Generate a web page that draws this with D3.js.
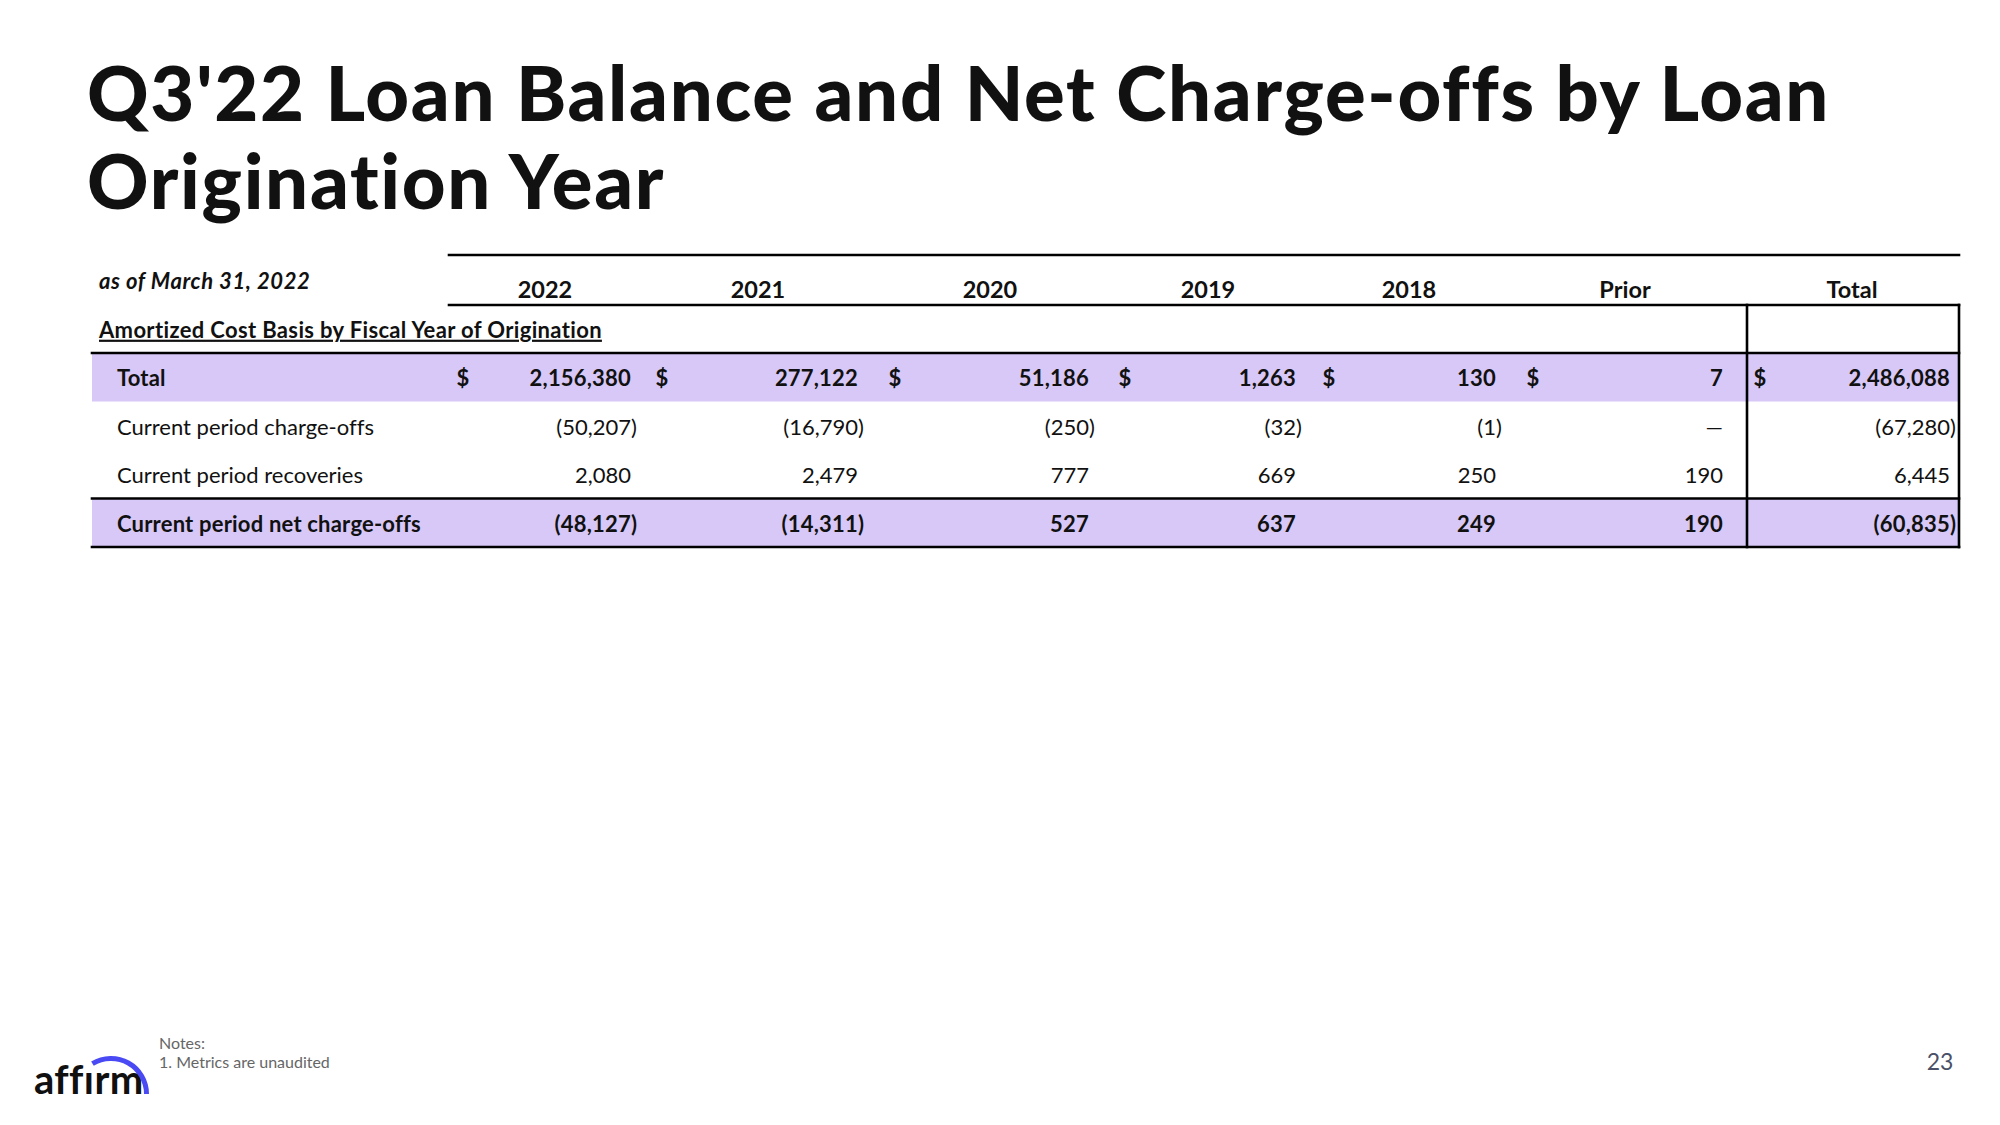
<!DOCTYPE html>
<html>
<head>
<meta charset="utf-8">
<script src="https://cdn.jsdelivr.net/npm/d3@7"></script>
<style>
    html, body { margin: 0; padding: 0; background: #fff; }
    svg text {
        font-family: Lato, 'Noto Sans', sans-serif;
        fill: #111;
        font-variant-ligatures: none;
        font-feature-settings: "liga" 0, "clig" 0;
    }
    .title { font-size: 76px; font-weight: 900; letter-spacing: 1.7px; }
    .hdr { font-size: 23.5px; font-weight: 700; }
    .lbl { font-size: 22px; }
    .bold { font-weight: 700; letter-spacing: 0.2px; }
    .rule { stroke: #000; stroke-width: 2.6; }
</style>
</head>
<body>
<div id="chart"></div>
<script>
// table values, in $ thousands
const columns = ['2022', '2021', '2020', '2019', '2018', 'Prior', 'Total'];
const rowLabels = ['Total', 'Current period charge-offs', 'Current period recoveries', 'Current period net charge-offs'];
const totalBalance = [2156380, 277122, 51186, 1263, 130, 7, 2486088];
const chargeOffs = [-50207, -16790, -250, -32, -1, 0, -67280];
const recoveries = [2080, 2479, 777, 669, 250, 190, 6445];
const netChargeOffs = [-48127, -14311, 527, 637, 249, 190, -60835];

const W = 2000, H = 1125;
// column geometry (right edge of numbers, centre of "$" sign, header centre)
const colRight = [631, 858, 1089, 1296, 1496, 1723, 1950];
const colDollar = [463, 662, 895, 1125, 1329, 1533, 1760];
const colHead = [545, 758, 990, 1208, 1409, 1625, 1852];

const xRight = d3.scaleOrdinal().domain(columns).range(colRight);
const xDollar = d3.scaleOrdinal().domain(columns).range(colDollar);
const xHead = d3.scaleOrdinal().domain(columns).range(colHead);
const yRow = d3.scaleBand().domain(rowLabels).range([353, 547]);

const fmt = d3.format(',');
// accounting style: negatives in brackets, zero as a dash
function acct(v) {
    if (v === 0) return { num: '—', close: '' };
    return v < 0 ? { num: '(' + fmt(-v), close: ')' } : { num: fmt(v), close: '' };
}

const svg = d3.select('#chart').append('svg')
    .attr('width', W)
    .attr('height', H);

// title
svg.append('text').attr('class', 'title').attr('x', 87).attr('y', 121)
    .text("Q3'22 Loan Balance and Net Charge-offs by Loan");
svg.append('text').attr('class', 'title').attr('x', 87).attr('y', 209)
    .text('Origination Year');

const left = 92, right = 1959, headLeft = 449, totalLeft = 1747;
const textDy = '0.42em';

// shaded rows
const shaded = [rowLabels[0], rowLabels[3]];
svg.selectAll('.band')
    .data(shaded)
    .enter()
    .append('rect')
    .attr('class', 'band')
    .attr('x', left)
    .attr('y', d => yRow(d))
    .attr('width', right - left)
    .attr('height', yRow.bandwidth())
    .attr('fill', '#d7c8f7');

// header
svg.append('text').attr('x', 99).attr('y', 281).attr('dy', '0.35em')
    .style('font-size', '22px').style('font-weight', 700).style('font-style', 'italic')
    .style('letter-spacing', '0.6px')
    .text('as of March 31, 2022');

svg.selectAll('.hdr')
    .data(columns)
    .enter()
    .append('text')
    .attr('class', 'hdr')
    .attr('x', d => xHead(d))
    .attr('y', 288)
    .attr('dy', textDy)
    .attr('text-anchor', 'middle')
    .text(d => d);

svg.append('text').attr('x', 99).attr('y', 330).attr('dy', '0.35em')
    .style('font-size', '22px').style('font-weight', 700)
    .style('letter-spacing', '0.35px')
    .style('text-decoration', 'underline')
    .text('Amortized Cost Basis by Fiscal Year of Origination');

// row labels
svg.selectAll('.lbl')
    .data(rowLabels)
    .enter()
    .append('text')
    .attr('class', (d, i) => 'lbl' + (i === 0 || i === 3 ? ' bold' : ''))
    .attr('x', 117)
    .attr('y', d => yRow(d) + yRow.bandwidth() / 2)
    .attr('dy', textDy)
    .text(d => d);

// values
const rows = [totalBalance, chargeOffs, recoveries, netChargeOffs];
rows.forEach((vals, r) => {
    const yc = yRow(rowLabels[r]) + yRow.bandwidth() / 2;
    const bold = r === 0 || r === 3;
    const g = svg.append('g').attr('class', 'row');
    const cells = vals.map((v, i) => ({ col: columns[i], v: v, f: acct(v) }));

    g.selectAll('.num')
        .data(cells)
        .enter()
        .append('text')
        .attr('class', 'lbl num' + (bold ? ' bold' : ''))
        .attr('x', d => xRight(d.col))
        .attr('y', yc)
        .attr('dy', textDy)
        .attr('text-anchor', 'end')
        .text(d => d.f.num);

    g.selectAll('.close')
        .data(cells.filter(d => d.f.close))
        .enter()
        .append('text')
        .attr('class', 'lbl' + (bold ? ' bold' : ''))
        .attr('x', d => xRight(d.col))
        .attr('y', yc)
        .attr('dy', textDy)
        .text(d => d.f.close);

    if (r === 0) {
        g.selectAll('.dollar')
            .data(cells)
            .enter()
            .append('text')
            .attr('class', 'lbl bold')
            .attr('x', d => xDollar(d.col))
            .attr('y', yc)
            .attr('dy', textDy)
            .attr('text-anchor', 'middle')
            .text('$');
    }
});

// rules
const lines = [
    { x1: headLeft, x2: right, y1: 255, y2: 255 },
    { x1: headLeft, x2: right, y1: 305, y2: 305 },
    { x1: left, x2: right, y1: 353, y2: 353 },
    { x1: left, x2: right, y1: yRow(rowLabels[3]), y2: yRow(rowLabels[3]) },
    { x1: left, x2: right, y1: 547, y2: 547 },
    { x1: totalLeft, x2: totalLeft, y1: 305, y2: 547 },
    { x1: right, x2: right, y1: 305, y2: 547 }
];
svg.selectAll('.rule')
    .data(lines)
    .enter()
    .append('line')
    .attr('class', 'rule')
    .attr('x1', d => d.x1)
    .attr('y1', d => d.y1)
    .attr('x2', d => d.x2)
    .attr('y2', d => d.y2)
    .attr('stroke-linecap', 'square');

// footer
svg.append('text').attr('x', 159).attr('y', 1043).attr('dy', '0.35em')
    .style('font-size', '16px').style('fill', '#666').text('Notes:');
svg.append('text').attr('x', 159).attr('y', 1062).attr('dy', '0.35em')
    .style('font-size', '16px').style('fill', '#666').text('1. Metrics are unaudited');
svg.append('text').attr('x', 1940).attr('y', 1062).attr('dy', '0.35em')
    .attr('text-anchor', 'middle')
    .style('font-size', '23px').style('fill', '#4a5068').text('23');

// logo: wordmark with a dotless i under the arc
svg.append('text').attr('x', 34).attr('y', 1094)
    .style('font-size', '40px').style('font-weight', 700).style('fill', '#101010')
    .style('letter-spacing', '0.4px')
    .text('affırm');
const logoArc = d3.arc()
    .innerRadius(33)
    .outerRadius(38)
    .startAngle(-0.55)
    .endAngle(Math.PI / 2);
svg.append('path')
    .attr('transform', 'translate(111,1094)')
    .attr('d', logoArc)
    .attr('fill', '#4a4af4');
</script>
</body>
</html>
